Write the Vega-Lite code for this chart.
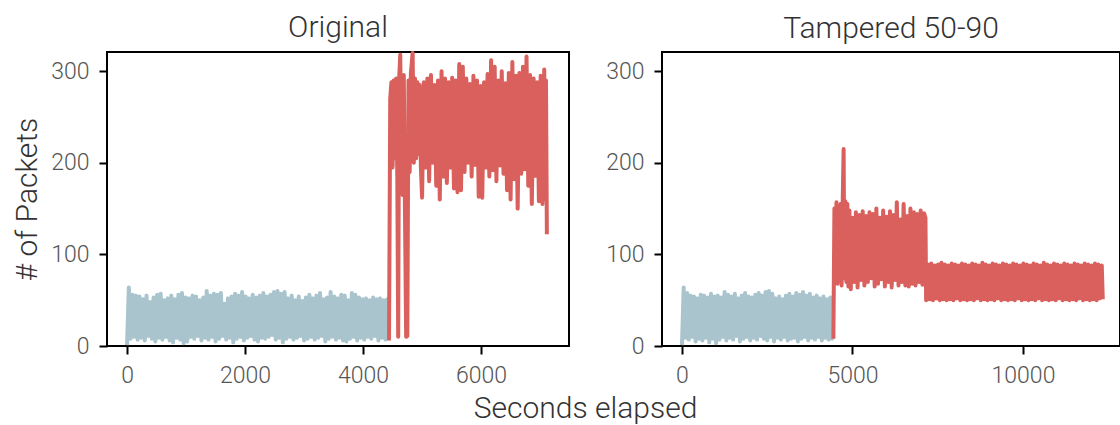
{
  "$schema": "https://vega.github.io/schema/vega-lite/v6.json",
  "background": "white",
  "padding": {"left": 11, "top": 11, "right": 0, "bottom": 0},
  "config": {
    "font": "Roboto",
    "view": {"stroke": "black", "strokeWidth": 2},
    "axis": {"grid": false, "domain": false, "tickColor": "black", "tickWidth": 2, "tickSize": 8, "labelFont": "Roboto", "labelFontWeight": 300, "labelFontSize": 23, "labelColor": "#555555", "labelPadding": 10, "titleFont": "Roboto", "titleFontWeight": 300, "titleFontSize": 30, "titleColor": "#333333", "format": "d"},
    "title": {"font": "Roboto", "fontSize": 30, "fontWeight": 300, "color": "#333333", "offset": 8},
    "concat": {"spacing": 93},
    "line": {"strokeWidth": 4, "strokeJoin": "round", "clip": true}
  },
  "datasets": {
    "origBefore": [
      {"t":0,"n":1},{"t":30,"n":64},{"t":60,"n":8},{"t":90,"n":56},{"t":120,"n":10},{"t":150,"n":55},{"t":180,"n":7},{"t":210,"n":54},{"t":240,"n":9},{"t":270,"n":51},{"t":300,"n":6},{"t":330,"n":55},{"t":360,"n":11},{"t":390,"n":48},{"t":420,"n":8},{"t":450,"n":53},{"t":480,"n":5},{"t":510,"n":56},{"t":540,"n":9},{"t":570,"n":57},{"t":600,"n":7},{"t":630,"n":50},{"t":660,"n":10},{"t":690,"n":52},{"t":720,"n":6},{"t":750,"n":55},{"t":780,"n":4},{"t":810,"n":51},{"t":840,"n":9},{"t":870,"n":56},{"t":900,"n":7},{"t":930,"n":58},{"t":960,"n":3},{"t":990,"n":53},{"t":1020,"n":5},{"t":1050,"n":52},{"t":1080,"n":10},{"t":1110,"n":55},{"t":1140,"n":8},{"t":1170,"n":54},{"t":1200,"n":11},{"t":1230,"n":50},{"t":1260,"n":6},{"t":1290,"n":53},{"t":1320,"n":9},{"t":1350,"n":60},{"t":1380,"n":7},{"t":1410,"n":55},{"t":1440,"n":10},{"t":1470,"n":57},{"t":1500,"n":5},{"t":1530,"n":56},{"t":1560,"n":8},{"t":1590,"n":58},{"t":1620,"n":11},{"t":1650,"n":46},{"t":1680,"n":7},{"t":1710,"n":52},{"t":1740,"n":9},{"t":1770,"n":54},{"t":1800,"n":4},{"t":1830,"n":57},{"t":1860,"n":8},{"t":1890,"n":55},{"t":1920,"n":10},{"t":1950,"n":59},{"t":1980,"n":6},{"t":2010,"n":54},{"t":2040,"n":9},{"t":2070,"n":52},{"t":2100,"n":11},{"t":2130,"n":56},{"t":2160,"n":7},{"t":2190,"n":53},{"t":2220,"n":5},{"t":2250,"n":55},{"t":2280,"n":9},{"t":2310,"n":58},{"t":2340,"n":8},{"t":2370,"n":54},{"t":2400,"n":10},{"t":2430,"n":56},{"t":2460,"n":12},{"t":2490,"n":59},{"t":2520,"n":7},{"t":2550,"n":60},{"t":2580,"n":9},{"t":2610,"n":57},{"t":2640,"n":4},{"t":2670,"n":59},{"t":2700,"n":8},{"t":2730,"n":52},{"t":2760,"n":10},{"t":2790,"n":55},{"t":2820,"n":7},{"t":2850,"n":50},{"t":2880,"n":9},{"t":2910,"n":54},{"t":2940,"n":11},{"t":2970,"n":49},{"t":3000,"n":6},{"t":3030,"n":53},{"t":3060,"n":8},{"t":3090,"n":56},{"t":3120,"n":10},{"t":3150,"n":52},{"t":3180,"n":7},{"t":3210,"n":55},{"t":3240,"n":9},{"t":3270,"n":58},{"t":3300,"n":11},{"t":3330,"n":51},{"t":3360,"n":5},{"t":3390,"n":53},{"t":3420,"n":8},{"t":3450,"n":59},{"t":3480,"n":10},{"t":3510,"n":54},{"t":3540,"n":7},{"t":3570,"n":52},{"t":3600,"n":9},{"t":3630,"n":56},{"t":3660,"n":6},{"t":3690,"n":55},{"t":3720,"n":5},{"t":3750,"n":50},{"t":3780,"n":8},{"t":3810,"n":58},{"t":3840,"n":10},{"t":3870,"n":56},{"t":3900,"n":6},{"t":3930,"n":53},{"t":3960,"n":9},{"t":3990,"n":51},{"t":4020,"n":7},{"t":4050,"n":52},{"t":4080,"n":10},{"t":4110,"n":50},{"t":4140,"n":8},{"t":4170,"n":53},{"t":4200,"n":11},{"t":4230,"n":51},{"t":4260,"n":6},{"t":4290,"n":52},{"t":4320,"n":9},{"t":4350,"n":50},{"t":4380,"n":7},{"t":4410,"n":51},{"t":4430,"n":8}
    ],
    "origAfter": [
      {"t":4440,"n":6},{"t":4460,"n":270},{"t":4480,"n":288},{"t":4500,"n":195},{"t":4520,"n":290},{"t":4540,"n":205},{"t":4560,"n":292},{"t":4580,"n":185},{"t":4595,"n":10},{"t":4610,"n":290},{"t":4630,"n":318},{"t":4650,"n":200},{"t":4670,"n":165},{"t":4690,"n":296},{"t":4710,"n":148},{"t":4730,"n":10},{"t":4750,"n":11},{"t":4770,"n":290},{"t":4790,"n":190},{"t":4810,"n":298},{"t":4840,"n":320},{"t":4860,"n":200},{"t":4880,"n":292},{"t":4900,"n":205},{"t":4920,"n":288},{"t":4940,"n":210},{"t":4960,"n":285},{"t":4980,"n":195},
      {"t":5000,"n":162},{"t":5030,"n":288},{"t":5060,"n":195},{"t":5090,"n":292},{"t":5120,"n":180},{"t":5150,"n":296},{"t":5180,"n":200},{"t":5210,"n":285},{"t":5240,"n":175},{"t":5270,"n":290},{"t":5300,"n":160},{"t":5330,"n":300},{"t":5360,"n":185},{"t":5390,"n":292},{"t":5420,"n":178},{"t":5450,"n":288},{"t":5480,"n":195},{"t":5510,"n":293},{"t":5540,"n":172},{"t":5570,"n":290},{"t":5600,"n":168},{"t":5630,"n":308},{"t":5660,"n":170},{"t":5690,"n":305},{"t":5720,"n":190},{"t":5750,"n":292},{"t":5780,"n":200},{"t":5810,"n":286},{"t":5840,"n":185},{"t":5870,"n":295},{"t":5900,"n":198},{"t":5930,"n":290},{"t":5960,"n":163},{"t":5990,"n":284},{"t":6020,"n":162},{"t":6050,"n":288},{"t":6080,"n":195},{"t":6110,"n":297},{"t":6140,"n":185},{"t":6170,"n":312},{"t":6200,"n":192},{"t":6230,"n":305},{"t":6260,"n":180},{"t":6290,"n":290},{"t":6320,"n":197},{"t":6350,"n":300},{"t":6380,"n":188},{"t":6410,"n":287},{"t":6440,"n":170},{"t":6470,"n":298},{"t":6500,"n":160},{"t":6530,"n":310},{"t":6560,"n":182},{"t":6590,"n":295},{"t":6620,"n":150},{"t":6650,"n":298},{"t":6680,"n":188},{"t":6710,"n":305},{"t":6740,"n":193},{"t":6770,"n":316},{"t":6800,"n":175},{"t":6830,"n":296},{"t":6860,"n":155},{"t":6890,"n":292},{"t":6920,"n":186},{"t":6950,"n":288},{"t":6980,"n":158},{"t":7010,"n":295},{"t":7040,"n":155},{"t":7070,"n":302},{"t":7090,"n":160},{"t":7100,"n":290},{"t":7115,"n":122}
    ],
    "tampBefore": [
      {"t":0,"n":1},{"t":50,"n":64},{"t":100,"n":9},{"t":150,"n":58},{"t":200,"n":7},{"t":250,"n":55},{"t":300,"n":10},{"t":350,"n":54},{"t":400,"n":5},{"t":450,"n":52},{"t":500,"n":8},{"t":550,"n":56},{"t":600,"n":6},{"t":650,"n":55},{"t":700,"n":9},{"t":750,"n":53},{"t":800,"n":4},{"t":850,"n":57},{"t":900,"n":8},{"t":950,"n":54},{"t":1000,"n":3},{"t":1050,"n":55},{"t":1100,"n":7},{"t":1150,"n":53},{"t":1200,"n":10},{"t":1250,"n":59},{"t":1300,"n":6},{"t":1350,"n":56},{"t":1400,"n":9},{"t":1450,"n":54},{"t":1500,"n":7},{"t":1550,"n":57},{"t":1600,"n":11},{"t":1650,"n":52},{"t":1700,"n":5},{"t":1750,"n":55},{"t":1800,"n":8},{"t":1850,"n":58},{"t":1900,"n":10},{"t":1950,"n":54},{"t":2000,"n":6},{"t":2050,"n":53},{"t":2100,"n":9},{"t":2150,"n":56},{"t":2200,"n":7},{"t":2250,"n":58},{"t":2300,"n":11},{"t":2350,"n":55},{"t":2400,"n":8},{"t":2450,"n":59},{"t":2500,"n":6},{"t":2550,"n":60},{"t":2600,"n":10},{"t":2650,"n":57},{"t":2700,"n":5},{"t":2750,"n":52},{"t":2800,"n":9},{"t":2850,"n":54},{"t":2900,"n":7},{"t":2950,"n":51},{"t":3000,"n":10},{"t":3050,"n":55},{"t":3100,"n":6},{"t":3150,"n":57},{"t":3200,"n":8},{"t":3250,"n":54},{"t":3300,"n":9},{"t":3350,"n":58},{"t":3400,"n":5},{"t":3450,"n":56},{"t":3500,"n":8},{"t":3550,"n":59},{"t":3600,"n":10},{"t":3650,"n":55},{"t":3700,"n":6},{"t":3750,"n":57},{"t":3800,"n":9},{"t":3850,"n":53},{"t":3900,"n":7},{"t":3950,"n":55},{"t":4000,"n":10},{"t":4050,"n":52},{"t":4100,"n":6},{"t":4150,"n":54},{"t":4200,"n":9},{"t":4250,"n":51},{"t":4300,"n":7},{"t":4350,"n":53},{"t":4400,"n":8},{"t":4430,"n":52}
    ],
    "tampAfter": [
      {"t":4440,"n":8},{"t":4470,"n":150},{"t":4500,"n":70},{"t":4530,"n":157},{"t":4560,"n":68},{"t":4590,"n":152},{"t":4620,"n":72},{"t":4650,"n":155},{"t":4680,"n":66},{"t":4710,"n":150},{"t":4740,"n":215},{"t":4760,"n":74},{"t":4790,"n":158},{"t":4820,"n":70},{"t":4850,"n":155},{"t":4880,"n":65},{"t":4910,"n":148},{"t":4950,"n":62},{"t":5000,"n":140},{"t":5050,"n":70},{"t":5100,"n":146},{"t":5150,"n":64},{"t":5200,"n":143},{"t":5250,"n":72},{"t":5300,"n":147},{"t":5350,"n":66},{"t":5400,"n":142},{"t":5450,"n":70},{"t":5500,"n":146},{"t":5550,"n":74},{"t":5600,"n":144},{"t":5650,"n":65},{"t":5700,"n":150},{"t":5750,"n":68},{"t":5800,"n":140},{"t":5850,"n":73},{"t":5900,"n":148},{"t":5950,"n":65},{"t":6000,"n":141},{"t":6050,"n":70},{"t":6100,"n":147},{"t":6150,"n":64},{"t":6200,"n":143},{"t":6250,"n":72},{"t":6300,"n":157},{"t":6350,"n":66},{"t":6400,"n":138},{"t":6450,"n":70},{"t":6500,"n":155},{"t":6550,"n":66},{"t":6600,"n":142},{"t":6650,"n":65},{"t":6700,"n":150},{"t":6750,"n":68},{"t":6800,"n":146},{"t":6850,"n":66},{"t":6900,"n":144},{"t":6950,"n":70},{"t":7000,"n":148},{"t":7050,"n":67},{"t":7100,"n":145},{"t":7140,"n":140},
      {"t":7160,"n":50},{"t":7210,"n":89},{"t":7260,"n":51},{"t":7310,"n":90},{"t":7360,"n":50},{"t":7410,"n":88},{"t":7460,"n":52},{"t":7510,"n":89},{"t":7560,"n":50},{"t":7610,"n":91},{"t":7660,"n":51},{"t":7710,"n":89},{"t":7760,"n":50},{"t":7810,"n":88},{"t":7860,"n":51},{"t":7910,"n":90},{"t":7960,"n":50},{"t":8010,"n":89},{"t":8060,"n":52},{"t":8110,"n":88},{"t":8160,"n":50},{"t":8210,"n":90},{"t":8260,"n":51},{"t":8310,"n":89},{"t":8360,"n":50},{"t":8410,"n":88},{"t":8460,"n":51},{"t":8510,"n":90},{"t":8560,"n":50},{"t":8610,"n":89},{"t":8660,"n":52},{"t":8710,"n":88},{"t":8760,"n":50},{"t":8810,"n":91},{"t":8860,"n":51},{"t":8910,"n":89},{"t":8960,"n":50},{"t":9010,"n":88},{"t":9060,"n":51},{"t":9110,"n":90},{"t":9160,"n":50},{"t":9210,"n":89},{"t":9260,"n":52},{"t":9310,"n":88},{"t":9360,"n":50},{"t":9410,"n":90},{"t":9460,"n":51},{"t":9510,"n":89},{"t":9560,"n":50},{"t":9610,"n":88},{"t":9660,"n":51},{"t":9710,"n":90},{"t":9760,"n":50},{"t":9810,"n":89},{"t":9860,"n":52},{"t":9910,"n":88},{"t":9960,"n":50},{"t":10010,"n":90},{"t":10060,"n":51},{"t":10110,"n":89},{"t":10160,"n":50},{"t":10210,"n":88},{"t":10260,"n":51},{"t":10310,"n":90},{"t":10360,"n":50},{"t":10410,"n":89},{"t":10460,"n":52},{"t":10510,"n":88},{"t":10560,"n":50},{"t":10610,"n":91},{"t":10660,"n":51},{"t":10710,"n":89},{"t":10760,"n":50},{"t":10810,"n":88},{"t":10860,"n":51},{"t":10910,"n":90},{"t":10960,"n":50},{"t":11010,"n":89},{"t":11060,"n":52},{"t":11110,"n":88},{"t":11160,"n":50},{"t":11210,"n":90},{"t":11260,"n":51},{"t":11310,"n":89},{"t":11360,"n":50},{"t":11410,"n":88},{"t":11460,"n":51},{"t":11510,"n":90},{"t":11560,"n":50},{"t":11610,"n":89},{"t":11660,"n":52},{"t":11710,"n":88},{"t":11760,"n":50},{"t":11810,"n":90},{"t":11860,"n":51},{"t":11910,"n":89},{"t":11960,"n":50},{"t":12010,"n":88},{"t":12060,"n":51},{"t":12110,"n":90},{"t":12160,"n":50},{"t":12210,"n":89},{"t":12260,"n":52},{"t":12310,"n":88},{"t":12340,"n":51}
    ]
  },
  "hconcat": [
    {
      "title": "Original",
      "width": 462,
      "height": 294,
      "encoding": {
        "x": {"field": "t", "type": "quantitative", "scale": {"domain": [-340, 7490], "nice": false, "zero": false}, "axis": {"values": [0, 2000, 4000, 6000], "title": "Seconds elapsed", "titleX": 478, "titlePadding": 6}},
        "y": {"field": "n", "type": "quantitative", "scale": {"domain": [0, 321], "nice": false}, "axis": {"values": [0, 100, 200, 300], "title": "# of Packets", "titlePadding": 8}}
      },
      "layer": [
        {"data": {"name": "origBefore"}, "mark": {"type": "line", "color": "#a9c4cd"}},
        {"data": {"name": "origAfter"}, "mark": {"type": "line", "color": "#d9605c"}}
      ]
    },
    {
      "title": "Tampered 50-90",
      "width": 458,
      "height": 294,
      "encoding": {
        "x": {"field": "t", "type": "quantitative", "scale": {"domain": [-586, 12845], "nice": false, "zero": false}, "axis": {"values": [0, 5000, 10000], "title": null}},
        "y": {"field": "n", "type": "quantitative", "scale": {"domain": [0, 321], "nice": false}, "axis": {"values": [0, 100, 200, 300], "title": null}}
      },
      "layer": [
        {"data": {"name": "tampBefore"}, "mark": {"type": "line", "color": "#a9c4cd"}},
        {"data": {"name": "tampAfter"}, "mark": {"type": "line", "color": "#d9605c"}}
      ]
    }
  ],
  "bounds": "flush"
}
